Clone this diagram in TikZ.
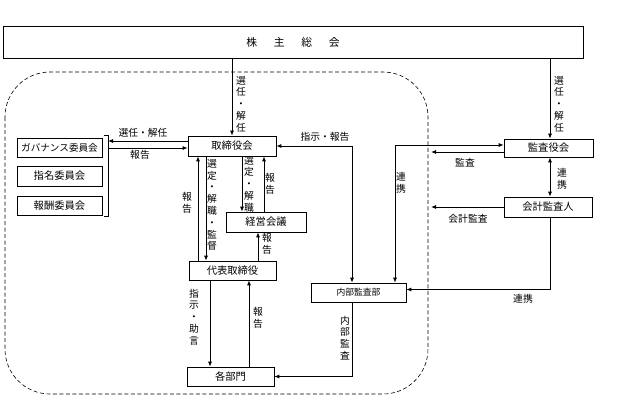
\documentclass[tikz,border=0pt]{standalone}
\usepackage{fontspec}
\setmainfont{Noto Sans CJK JP}
\usetikzlibrary{arrows.meta}
\begin{document}
\begin{tikzpicture}[x=1pt,y=-1pt,
 box/.style={draw, line width=0.7pt, inner sep=0pt, font=\fontsize{10.3}{11}\selectfont},
 arr/.style={-{Latex[length=5pt,width=4pt]}, line width=0.8pt},
 biarr/.style={{Latex[length=5pt,width=4pt]}-{Latex[length=5pt,width=4pt]}, line width=0.8pt},
 ln/.style={line width=0.8pt},
 lbl/.style={inner sep=0pt, font=\fontsize{9.8}{11.8}\selectfont},
 vl/.style={lbl, align=center}]
\useasboundingbox (0,0) rectangle (635,397);
% dashed board region
\draw[dash pattern=on 4pt off 2.5pt, line width=0.6pt, rounded corners=45pt] (5,72) rectangle (428,394);
% boxes
\node[box, minimum width=580pt, minimum height=32pt, font=\fontsize{10.8}{12}\selectfont] (kabu) at (293,42) {株\hspace{1.55em}主\hspace{1.55em}総\hspace{1.55em}会};
\node[box, minimum width=88pt, minimum height=20pt] (tori) at (232,146) {取締役会};
\node[box, minimum width=85pt, minimum height=19pt, font=\fontsize{9.6}{11}\selectfont] (gov) at (59.5,147.5) {ガバナンス委員会};
\node[box, minimum width=85pt, minimum height=20pt] (shimei) at (59.5,176) {指名委員会};
\node[box, minimum width=85pt, minimum height=19pt] (hoshu) at (59.5,205.5) {報酬委員会};
\node[box, minimum width=80pt, minimum height=20pt] (keiei) at (266,222) {経営会議};
\node[box, minimum width=87pt, minimum height=19pt] (daihyo) at (232.5,270.5) {代表取締役};
\node[box, minimum width=87pt, minimum height=19pt] (kakubu) at (230.5,376.5) {各部門};
\node[box, minimum width=95pt, minimum height=19pt, font=\fontsize{8.8}{10}\selectfont] (naibu) at (358.5,292.5) {内部監査部};
\node[box, minimum width=89pt, minimum height=18pt] (kansa) at (548.5,148) {監査役会};
\node[box, minimum width=88pt, minimum height=20pt] (kaikei) at (548,207) {会計監査人};
% helper coordinates
\coordinate (brk) at (108,0);
\coordinate (xa) at (198,0);
\coordinate (xb) at (206,0);
\coordinate (xc) at (242,0);
\coordinate (xd) at (264,0);
\coordinate (xe) at (258,0);
\coordinate (xf) at (210,0);
\coordinate (xg) at (249,0);
\coordinate (xn) at (352,0);
\coordinate (xr) at (395,0);
\coordinate (xk) at (550,0);
\coordinate (xt) at (232,0);
\coordinate (bnd) at (431,0);
\coordinate (t1) at ([yshift=5pt]tori.west);
\coordinate (t2) at ([yshift=-2pt]tori.west);
\coordinate (k1) at ([yshift=3pt]kansa.west);
\coordinate (k2) at ([yshift=-4pt]kansa.west);
\coordinate (n1) at ([yshift=3pt]naibu.east);
% bracket
\draw[ln] (104,135) -- (brk |- 0,135) -- (brk |- 0,216) -- (104,216);
% connectors
\draw[arr] (kabu.south -| xt) -- (tori.north);
\draw[arr] (kabu.south -| xk) -- (kansa.north -| xk);
\draw[arr] (t1) -- (t1 -| brk);
\draw[arr] (t2 -| brk) -- (t2);
\draw[arr] (daihyo.north -| xa) -- (tori.south -| xa);
\draw[arr] (tori.south -| xb) -- (daihyo.north -| xb);
\draw[arr] (tori.south -| xc) -- (keiei.north -| xc);
\draw[arr] (keiei.north -| xd) -- (tori.south -| xd);
\draw[arr] (daihyo.north -| xe) -- (keiei.south -| xe);
\draw[arr] (daihyo.south -| xf) -- (kakubu.north -| xf);
\draw[arr] (kakubu.north -| xg) -- (daihyo.south -| xg);
\draw[arr] (naibu.south -| xn) |- (kakubu.east);
\draw[biarr] (naibu.north -| xn) |- (tori.east);
\draw[biarr] (naibu.north -| xr) |- (k1);
\draw[arr] (k2) -- (k2 -| bnd);
\draw[arr] (kaikei.west) -- (kaikei.west -| bnd);
\draw[biarr] (kansa.south -| xk) -- (kaikei.north -| xk);
\draw[arr] (kaikei.south -| xk) |- (n1);
% labels
\node[vl] (l1) at (241,104) {選\\任\\・\\解\\任};
\node[vl] (l2) at (559,104) {選\\任\\・\\解\\任};
\node[lbl] (l3) at (143,133) {選任・解任};
\node[lbl] (l4) at (140,155) {報告};
\node[vl] (l5) at (187,203) {報\\告};
\node[vl] (l6) at (212,205) {選\\定\\・\\解\\職\\・\\監\\督};
\node[vl] (l7) at (249,184) {選\\定\\・\\解\\職};
\node[vl] (l8) at (270,184) {報\\告};
\node[vl] (l9) at (267,244) {報\\告};
\node[vl] (l10) at (194,317) {指\\示\\・\\助\\言};
\node[vl] (l11) at (258,318) {報\\告};
\node[vl] (l12) at (345,338) {内\\部\\監\\査};
\node[lbl] (l13) at (325,137) {指示・報告};
\node[vl] (l14) at (401,183) {連\\携};
\node[lbl] (l15) at (465,163) {監査};
\node[vl] (l16) at (562,179) {連\\携};
\node[lbl] (l17) at (468,219) {会計監査};
\node[lbl] (l18) at (523,299) {連携};
\end{tikzpicture}
\end{document}
